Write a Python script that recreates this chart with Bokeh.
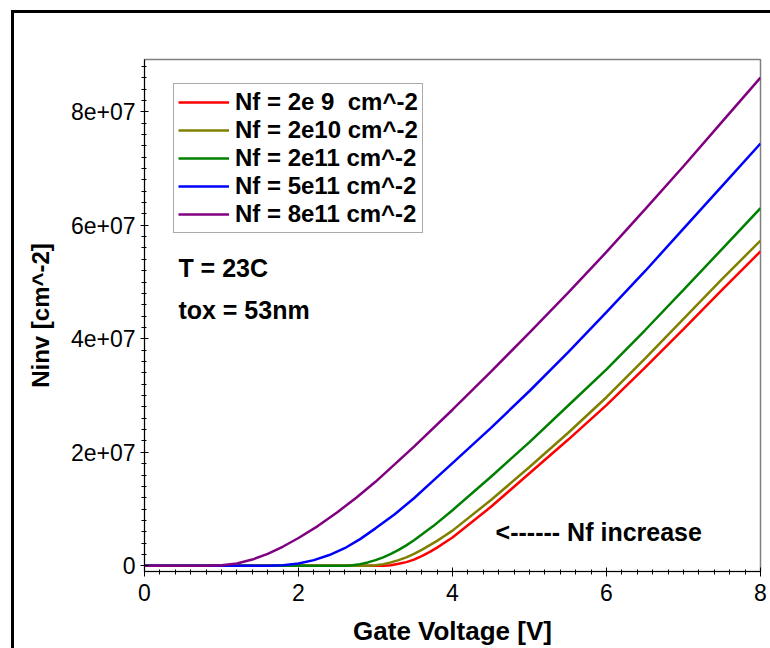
from bokeh.plotting import figure
from bokeh.models import FixedTicker, Label, Legend, LegendItem, Range1d
from bokeh.embed import file_html
from bokeh.resources import INLINE

# ---- data ----
series_names = ["Nf = 2e 9  cm^-2", "Nf = 2e10 cm^-2", "Nf = 2e11 cm^-2",
                "Nf = 5e11 cm^-2", "Nf = 8e11 cm^-2"]
series_colors = ["#ff0000", "#808000", "#008000", "#0000ff", "#800080"]

v_nf2e9 = [0, 3.1, 3.2, 3.3, 3.4, 3.5, 3.6, 3.7, 3.8, 3.9, 4.0, 4.5, 5.0, 5.5,
           6.0, 6.5, 7.0, 7.5, 8.0]
n_nf2e9 = [0, 0, 0.1e6, 0.35e6, 0.65e6, 1.1e6, 1.7e6, 2.4e6, 3.2e6, 4.1e6, 5.0e6,
           10.4e6, 16.3e6, 22.2e6, 28.3e6, 34.9e6, 41.7e6, 48.6e6, 55.4e6]

v_nf2e10 = [0, 2.9, 3.0, 3.1, 3.2, 3.3, 3.4, 3.5, 3.6, 3.7, 3.8, 3.9, 4.0, 4.5,
            5.0, 5.5, 6.0, 6.5, 7.0, 7.5, 8.0]
n_nf2e10 = [0, 0, 0.1e6, 0.3e6, 0.6e6, 1.0e6, 1.5e6, 2.1e6, 2.8e6, 3.6e6, 4.4e6,
            5.3e6, 6.2e6, 11.6e6, 17.4e6, 23.4e6, 29.7e6, 36.5e6, 43.5e6, 50.5e6,
            57.3e6]

v_nf2e11 = [0, 2.6, 2.7, 2.8, 2.9, 3.0, 3.1, 3.2, 3.3, 3.4, 3.5, 3.75, 4.0, 4.5,
            5.0, 5.5, 6.0, 6.5, 7.0, 7.5, 8.0]
n_nf2e11 = [0, 0, 0.1e6, 0.3e6, 0.6e6, 1.0e6, 1.5e6, 2.1e6, 2.8e6, 3.6e6, 4.5e6,
            7.0e6, 9.8e6, 15.7e6, 21.8e6, 28.2e6, 34.6e6, 41.5e6, 48.6e6, 55.8e6,
            63.0e6]

v_nf5e11 = [0, 1.6, 1.8, 2.0, 2.2, 2.4, 2.6, 2.8, 3.0, 3.25, 3.5, 3.75, 4.0, 4.5,
            5.0, 5.5, 6.0, 6.5, 7.0, 7.5, 8.0]
n_nf5e11 = [0, 0, 0.1e6, 0.4e6, 1.0e6, 1.9e6, 3.1e6, 4.7e6, 6.6e6, 9.1e6, 11.9e6,
            15.0e6, 18.1e6, 24.3e6, 30.8e6, 37.6e6, 44.7e6, 51.9e6, 59.4e6, 66.9e6,
            74.4e6]

v_nf8e11 = [0, 0.8, 1.0, 1.2, 1.4, 1.6, 1.8, 2.0, 2.25, 2.5, 2.75, 3.0, 3.5, 4.0,
            4.5, 5.0, 5.5, 6.0, 6.5, 7.0, 7.5, 8.0]
n_nf8e11 = [0, 0, 0.1e6, 0.4e6, 1.1e6, 2.1e6, 3.4e6, 4.9e6, 7.0e6, 9.4e6, 12.0e6,
            14.8e6, 21.0e6, 27.5e6, 34.2e6, 41.1e6, 48.1e6, 55.3e6, 62.8e6, 70.4e6,
            78.2e6, 86.0e6]

x_ticks = [0, 2, 4, 6, 8]
x_tick_labels = ["0", "2", "4", "6", "8"]
y_ticks = [0, 2e7, 4e7, 6e7, 8e7]
y_tick_labels = ["0", "2e+07", "4e+07", "6e+07", "8e+07"]

x_title = "Gate Voltage [V]"
y_title = "Ninv [cm^-2]"
note_temp = "T = 23C"
note_tox = "tox = 53nm"
note_arrow = "<------ Nf increase"

FONT = "Liberation Sans"

# canvas is shifted to (14, 13) on the page; its black outline is the picture frame
p = figure(width=756, height=635, output_backend="svg", toolbar_location=None,
           x_range=Range1d(0, 8), y_range=Range1d(-1.0e6, 8.92e7),
           min_border_left=130, min_border_right=10, min_border_top=46,
           min_border_bottom=76)
p.styles = {"position": "relative", "left": "14px", "top": "13px",
            "outline": "3px solid black"}

p.grid.visible = False
p.outline_line_color = "#808080"
p.outline_line_width = 1.5
p.background_fill_color = "white"
p.border_fill_color = "white"

xs = [v_nf2e9, v_nf2e10, v_nf2e11, v_nf5e11, v_nf8e11]
ys = [n_nf2e9, n_nf2e10, n_nf2e11, n_nf5e11, n_nf8e11]
items = []
for name, col, vx, ny in zip(series_names, series_colors, xs, ys):
    r = p.line(vx, ny, line_color=col, line_width=2.5)
    items.append(LegendItem(label=name, renderers=[r]))

legend = Legend(items=items, location=(29, 338))
legend.label_text_font = FONT
legend.label_text_font_style = "bold"
legend.label_text_font_size = "24px"
legend.label_text_color = "black"
legend.glyph_width = 51
legend.glyph_height = 20
legend.label_height = 20
legend.label_standoff = 6
legend.spacing = 0
legend.padding = 4
legend.margin = 0
legend.border_line_color = "#555555"
legend.border_line_width = 1
legend.background_fill_color = "white"
legend.background_fill_alpha = 1.0
p.add_layout(legend, "center")

# axes
xa = p.xaxis[0]
ya = p.yaxis[0]
xa.ticker = FixedTicker(ticks=x_ticks, minor_ticks=[i * 0.2 for i in range(41)])
ya.ticker = FixedTicker(ticks=y_ticks, minor_ticks=[i * 2e6 for i in range(45)])
xa.major_label_overrides = {t: l for t, l in zip(x_ticks, x_tick_labels)}
ya.major_label_overrides = {t: l for t, l in zip(y_ticks, y_tick_labels)}
for ax in (xa, ya):
    ax.axis_line_color = "black"
    ax.axis_line_width = 1
    ax.major_tick_line_color = "black"
    ax.minor_tick_line_color = "black"
    ax.major_label_text_font = FONT
    ax.major_label_text_font_size = "23px"
    ax.major_label_text_color = "black"
    ax.axis_label_text_font = FONT
    ax.axis_label_text_font_style = "bold"
    ax.axis_label_text_color = "black"
xa.axis_label_text_font_size = "26px"
ya.axis_label_text_font_size = "24px"
xa.major_tick_in = 4
xa.major_tick_out = 5
xa.minor_tick_in = 2
xa.minor_tick_out = 3
ya.major_tick_in = 4
ya.major_tick_out = 4
ya.minor_tick_in = 2
ya.minor_tick_out = 3
xa.major_label_standoff = 7
ya.major_label_standoff = 5
xa.axis_label = x_title
ya.axis_label = y_title
xa.axis_label_standoff = 12
ya.axis_label_standoff = 14

for txt, lx, ly in [(note_temp, 0.44, 5.24e7), (note_tox, 0.44, 4.5e7),
                    (note_arrow, 4.56, 6.0e6)]:
    p.add_layout(Label(x=lx, y=ly, text=txt, text_font=FONT,
                       text_font_style="bold", text_font_size="25px",
                       text_color="black", text_baseline="middle",
                       text_align="left"))

open("out.html", "w").write(file_html(p, INLINE))
